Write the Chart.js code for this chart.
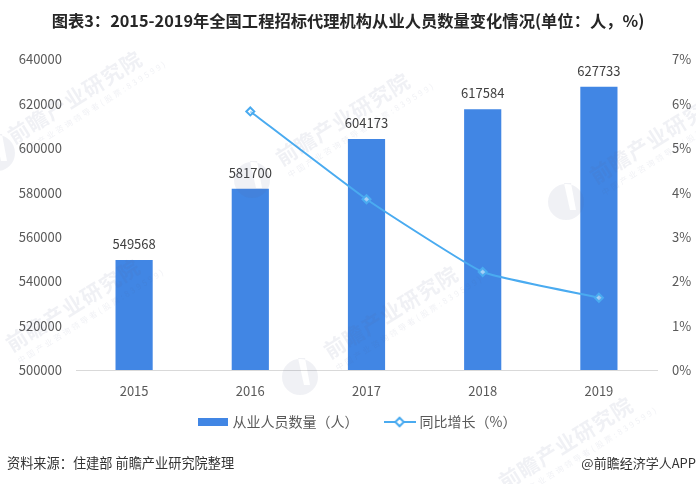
<!DOCTYPE html>
<html lang="zh">
<head>
  <meta charset="UTF-8">
  <title>从业人员数量变化情况</title>
  <script src="https://cdn.jsdelivr.net/npm/chart.js"></script>
  <style>
    html, body { margin: 0; padding: 0; background: #fff; }
    #wrap { position: relative; width: 696px; height: 484px; overflow: hidden; }
  </style>
</head>
<body>
<div id="wrap"><canvas id="chart" width="696" height="484"></canvas></div>
<script>
  const years = ['2015', '2016', '2017', '2018', '2019'];
  const staff = [549568, 581700, 604173, 617584, 627733];
  const growth = [null, 5.83, 3.85, 2.21, 1.63];
  const leftTicks = [500000, 520000, 540000, 560000, 580000, 600000, 620000, 640000];
  const rightTicks = [0, 1, 2, 3, 4, 5, 6, 7];
  const titleText = '图表3：2015-2019年全国工程招标代理机构从业人员数量变化情况(单位：人，%)';
  const sourceText = '资料来源：住建部 前瞻产业研究院整理';
  const brandText = '@前瞻经济学人APP';
  const watermarkText = '前瞻产业研究院';
  const watermarkSub = '中国产业咨询领导者(股票:839599)';
  const watermarkSpots = [[75, 97], [343, 119], [657, 137], [73, 305], [391, 312], [566, 443]];
  const logoSpots = [[252, 180], [566, 202], [300, 377], [-3, 153]];

  const BAR = '#4186e4', LINE = '#4aabf0';
  const FONT = '"Noto Sans CJK SC", "Noto Sans", sans-serif';

  // legend swatches
  function barSwatch() {
    const c = document.createElement('canvas');
    c.width = 30; c.height = 8;
    const x = c.getContext('2d');
    x.fillStyle = BAR;
    x.fillRect(0, 0, 30, 8);
    return c;
  }
  function lineSwatch() {
    const c = document.createElement('canvas');
    c.width = 32; c.height = 12;
    const x = c.getContext('2d');
    x.strokeStyle = LINE;
    x.lineWidth = 2;
    x.beginPath(); x.moveTo(0, 6); x.lineTo(32, 6); x.stroke();
    x.translate(16, 6); x.rotate(Math.PI / 4);
    x.fillStyle = '#fff';
    x.fillRect(-3, -3, 6, 6);
    x.strokeRect(-3, -3, 6, 6);
    return c;
  }

  const extras = {
    id: 'extras',
    afterLayout(chart) {
      // nudge the legend to where the reference has it
      chart.legend.left += 10;
      chart.legend.right += 10;
      chart.legend.top -= 15;
      chart.legend.bottom -= 15;
    },
    afterDatasetsDraw(chart) {
      const c = chart.ctx;
      const meta = chart.getDatasetMeta(0);
      c.save();
      c.fillStyle = '#404040';
      c.font = '13px ' + FONT;
      c.textAlign = 'center';
      c.textBaseline = 'middle';
      meta.data.forEach((bar, i) => c.fillText(String(staff[i]), bar.x, bar.y - 16));
      c.textAlign = 'left';
      c.fillStyle = '#333';
      c.font = '13.2px ' + FONT;
      c.fillText(sourceText, 7, 463);
      c.textAlign = 'right';
      c.font = '13px ' + FONT;
      c.fillText(brandText, 696, 463);
      c.restore();
    },
    afterDraw(chart) {
      const c = chart.ctx;
      c.save();
      c.textAlign = 'center';
      c.textBaseline = 'middle';
      c.fillStyle = 'rgba(90,105,140,0.09)';
      logoSpots.forEach(([x, y]) => {
        // round logo with a slanted slit
        c.beginPath();
        c.arc(x, y, 18, 0, Math.PI * 2);
        c.moveTo(x - 2, y - 19);
        c.lineTo(x + 5, y - 19);
        c.lineTo(x + 10, y + 8);
        c.lineTo(x + 4, y + 8);
        c.closePath();
        c.fill('evenodd');
      });
      watermarkSpots.forEach(([x, y]) => {
        c.save();
        c.translate(x, y);
        c.rotate(-32 * Math.PI / 180);
        c.font = 'bold 21px ' + FONT;
        c.letterSpacing = '1px';
        c.fillText(watermarkText, 0, 0);
        c.font = '8px ' + FONT;
        c.letterSpacing = '2.5px';
        c.fillText(watermarkSub, 10, 19);
        c.restore();
      });
      c.restore();
    }
  };

  new Chart(document.getElementById('chart'), {
    data: {
      labels: years,
      datasets: [
        {
          type: 'bar', label: '从业人员数量（人）', data: staff, yAxisID: 'y', order: 2,
          backgroundColor: BAR, barPercentage: 0.32, categoryPercentage: 1
        },
        {
          type: 'line', label: '同比增长（%）', data: growth, yAxisID: 'y1', order: 1,
          borderColor: LINE, backgroundColor: '#fff', borderWidth: 2, tension: 0.12,
          pointStyle: 'rectRot', pointRadius: 4, pointBorderWidth: 2,
          pointBorderColor: LINE, pointBackgroundColor: 'rgba(255,255,255,0.5)', spanGaps: true
        }
      ]
    },
    options: {
      responsive: false,
      animation: false,
      layout: { padding: { top: 8, bottom: 30, left: 0, right: 0 } },
      plugins: {
        tooltip: { enabled: false },
        title: {
          display: true, text: titleText, color: '#262626',
          font: { family: FONT, size: 16.3, weight: 'bold' },
          padding: { top: 3, bottom: 29 }
        },
        legend: {
          position: 'bottom',
          labels: {
            usePointStyle: true, pointStyleWidth: 26, color: '#595959', padding: 28,
            font: { family: FONT, size: 14 },
            generateLabels() {
              return [
                { text: '从业人员数量（人）', pointStyle: barSwatch(), datasetIndex: 0, fontColor: '#595959', lineWidth: 0 },
                { text: '同比增长（%）', pointStyle: lineSwatch(), datasetIndex: 1, fontColor: '#595959', lineWidth: 0 }
              ];
            }
          }
        }
      },
      scales: {
        x: {
          afterFit(axis) { axis.height = 32; },
          grid: { display: false, drawTicks: false },
          border: { color: '#d9d9d9' },
          ticks: { color: '#595959', font: { family: FONT, size: 13 }, padding: 13 }
        },
        y: {
          min: 500000, max: 640000,
          afterBuildTicks(axis) { axis.ticks = leftTicks.map(value => ({ value })); },
          afterFit(axis) { axis.width = 76; },
          grid: { display: false, drawTicks: false },
          border: { display: false },
          ticks: { color: '#595959', font: { family: FONT, size: 13 }, padding: 14, callback: v => String(v) }
        },
        y1: {
          position: 'right', min: 0, max: 7,
          afterBuildTicks(axis) { axis.ticks = rightTicks.map(value => ({ value })); },
          afterFit(axis) { axis.width = 39; },
          grid: { display: false, drawTicks: false },
          border: { display: false },
          ticks: { color: '#595959', font: { family: FONT, size: 13 }, padding: 15, callback: v => v + '%' }
        }
      }
    },
    plugins: [extras]
  });
</script>
</body>
</html>
